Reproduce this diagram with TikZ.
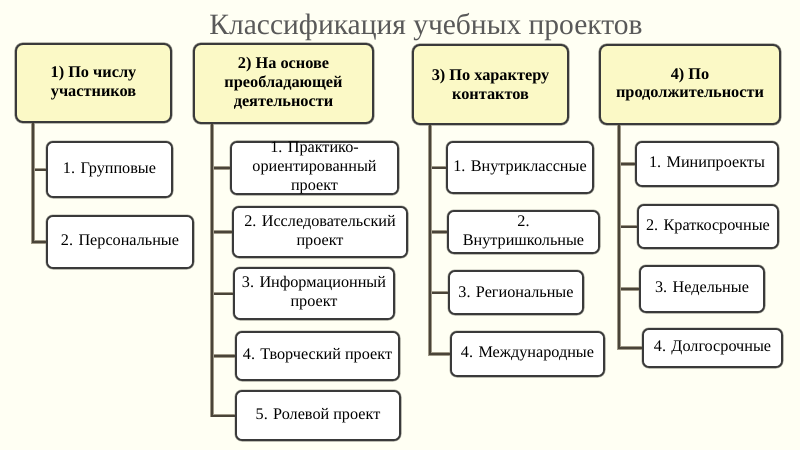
\documentclass[tikz,border=0pt]{standalone}
\usepackage{fontspec}
\setmainfont{Liberation Serif}
\definecolor{bg}{HTML}{FFFFF3}
\definecolor{hdr}{HTML}{FBF9C6}
\definecolor{edge}{HTML}{3A3A3A}
\definecolor{edgelt}{HTML}{9A9A90}
\definecolor{ln}{HTML}{4A4438}
\definecolor{lnlt}{HTML}{A09A88}
\definecolor{ttl}{HTML}{595959}
\begin{document}
\begin{tikzpicture}[x=1pt,y=-1pt,
  hdrbox/.style={draw=edge, line width=1.9pt, rounded corners=7pt, fill=hdr,
    align=center, inner sep=0pt, font=\fontsize{16.3}{18.8}\selectfont\bfseries,
    preaction={draw=edgelt, line width=3.2pt}},
  kid/.style={draw=edge, line width=1.7pt, rounded corners=6pt, fill=white,
    align=center, inner sep=0pt, font=\fontsize{16.2}{19}\selectfont,
    preaction={draw=edgelt, line width=3pt}},
  conn/.style={draw=ln, line width=2pt, preaction={draw=lnlt, line width=3.4pt}}
]
\fill[bg] (0,0) rectangle (800,450);
\useasboundingbox (0,0) rectangle (800,450);

\node[font=\fontsize{29.5}{32}\selectfont, text=ttl, anchor=base] (title) at (426,34) {Классификация учебных проектов};

% headers
\node[hdrbox, minimum width=155, minimum height=78] (h1) at (93.5,83) {1) По числу\\участников};
\node[hdrbox, minimum width=179, minimum height=79] (h2) at (283.5,83.5) {2) На основе\\преобладающей\\деятельности};
\node[hdrbox, minimum width=155, minimum height=79] (h3) at (490.5,84.5) {3) По характеру\\контактов};
\node[hdrbox, minimum width=180, minimum height=79] (h4) at (690,84.5) {4) По\\продолжительности};

% trunk x positions
\coordinate (t1) at (33,0);
\coordinate (t2) at (212,0);
\coordinate (t3) at (430,0);
\coordinate (t4) at (619,0);

% column 1
\node[kid, minimum width=125, minimum height=55] (c11) at (109.5,169.5) {1. Групповые};
\node[kid, minimum width=146, minimum height=52] (c12) at (120,242) {2. Персональные};

% column 2
\node[kid, minimum width=167, minimum height=52] (c21) at (314.5,168) {1. Практико-\\ориентированный\\проект};
\node[kid, minimum width=174, minimum height=50] (c22) at (320,232) {2. Исследовательский\\проект};
\node[kid, minimum width=160, minimum height=51] (c23) at (314,293.5) {3. Информационный\\проект};
\node[kid, minimum width=163, minimum height=48] (c24) at (317.5,356) {4. Творческий проект};
\node[kid, minimum width=164, minimum height=49] (c25) at (318,415.5) {5. Ролевой проект};

% column 3
\node[kid, minimum width=146, minimum height=51] (c31) at (520,167.5) {1. Внутриклассные};
\node[kid, minimum width=151, minimum height=42] (c32) at (523.5,232) {2.\\Внутришкольные};
\node[kid, minimum width=134, minimum height=43] (c33) at (516,292.5) {3. Региональные};
\node[kid, minimum width=153, minimum height=44] (c34) at (527.5,354) {4. Международные};

% column 4
\node[kid, minimum width=142, minimum height=44] (c41) at (707,164) {1. Минипроекты};
\node[kid, minimum width=140, minimum height=43] (c42) at (708,226.5) {2. Краткосрочные};
\node[kid, minimum width=124, minimum height=46] (c43) at (702,289) {3. Недельные};
\node[kid, minimum width=139, minimum height=38] (c44) at (712.5,348) {4. Долгосрочные};

% connectors
\foreach \h/\t/\c in {h1/t1/c11, h1/t1/c12,
                      h2/t2/c21, h2/t2/c22, h2/t2/c23, h2/t2/c24, h2/t2/c25,
                      h3/t3/c31, h3/t3/c32, h3/t3/c33, h3/t3/c34,
                      h4/t4/c41, h4/t4/c42, h4/t4/c43, h4/t4/c44}
  \draw[conn] (\h.south -| \t) |- (\c.west);
\end{tikzpicture}
\end{document}
